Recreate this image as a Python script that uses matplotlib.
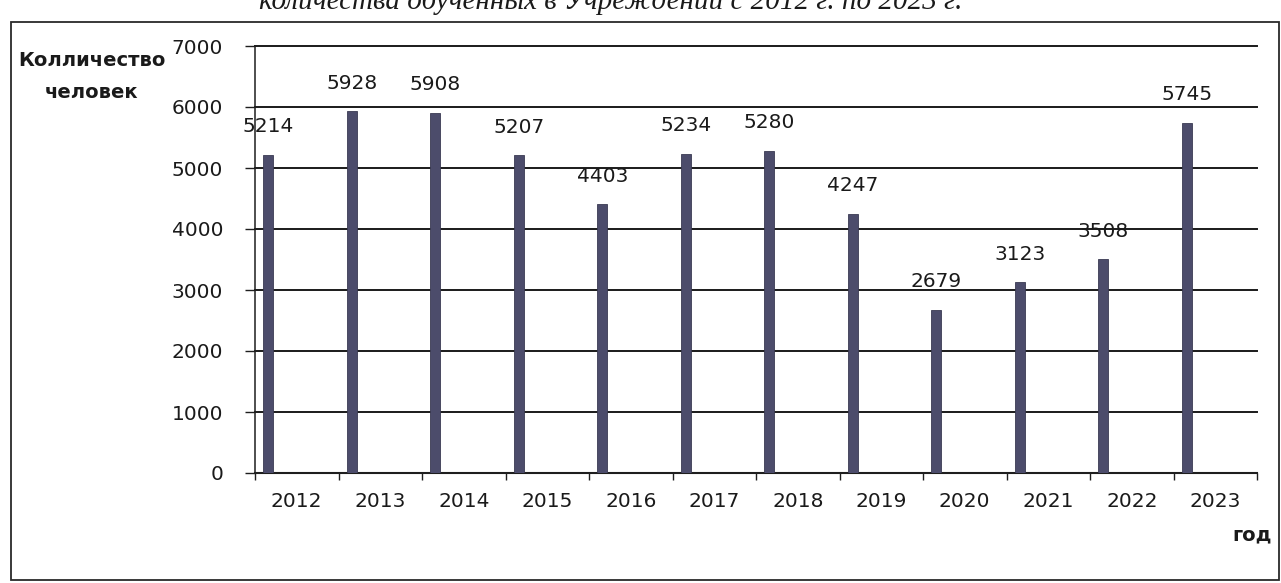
import matplotlib
matplotlib.use("Agg")
import matplotlib.pyplot as plt
from matplotlib.patches import Rectangle
import numpy as np

years = ["2012", "2013", "2014", "2015", "2016", "2017",
         "2018", "2019", "2020", "2021", "2022", "2023"]
people = [5214, 5928, 5908, 5207, 4403, 5234, 5280, 4247, 2679, 3123, 3508, 5745]
y_ticks = [0, 1000, 2000, 3000, 4000, 5000, 6000, 7000]
y_title = ["Колличество", "человек"]
x_title = "год"
caption = "количества обученных в Учреждении с 2012 г. по 2023 г."

plt.rcParams['font.family'] = ['DejaVu Sans']

W, H = 1281, 583
fig = plt.figure(figsize=(W / 100, H / 100), dpi=100)
fig.patch.set_facecolor("white")

# outer frame
fig.add_artist(Rectangle((11 / W, 1 - 580 / H), (1279 - 11) / W, (580 - 22) / H,
                         transform=fig.transFigure, fill=False,
                         edgecolor="#2a2a2a", linewidth=1.3))

ax = fig.add_axes([255 / W, 1 - 473 / H, 1002 / W, 427 / H])
n = len(years)
idx = np.arange(n)
bar_x = idx + 0.16
bars = ax.bar(bar_x, people, width=0.12, color="#4c4c6b",
              edgecolor="#3a3a52", linewidth=0.6, zorder=3)

for x, v in zip(bar_x, people):
    ax.annotate(str(v), xy=(x, v), xytext=(0, 28), textcoords="offset pixels",
                ha="center", va="center", fontsize=14.5, color="#1a1a1a", zorder=4)

ax.set_xlim(0, n)
ax.set_ylim(0, 7000)
ax.set_yticks(y_ticks)
ax.set_yticklabels([str(t) for t in y_ticks], fontsize=14.5, color="#1a1a1a")
ax.yaxis.grid(True, color="#1a1a1a", linewidth=1.4, zorder=1)
for gl in ax.get_ygridlines():
    gl.set_clip_on(False)
ax.set_axisbelow(True)

ax.set_xticks(np.arange(n + 1))
ax.set_xticklabels([])
ax.set_xticks(idx + 0.5, minor=True)
ax.set_xticklabels(years, minor=True, fontsize=14.5, color="#1a1a1a")
ax.tick_params(axis="x", which="major", direction="out", length=5, width=1.0, color="#1e1e1e")
ax.tick_params(axis="x", which="minor", length=0, pad=14)
ax.tick_params(axis="y", which="major", direction="out", length=7, width=1.0,
               color="#1e1e1e", pad=16)

for s in ["top", "right"]:
    ax.spines[s].set_visible(False)
ax.spines["left"].set_color("#1e1e1e")
ax.spines["left"].set_linewidth(1.1)
ax.spines["bottom"].set_color("#1e1e1e")
ax.spines["bottom"].set_linewidth(1.5)

fig.text(92 / W, 1 - 60 / H, y_title[0], ha="center", va="center",
         fontsize=14, fontweight="bold", color="#1a1a1a")
fig.text(92 / W, 1 - 93 / H, y_title[1], ha="center", va="center",
         fontsize=14, fontweight="bold", color="#1a1a1a")
fig.text(1252 / W, 1 - 535 / H, x_title, ha="center", va="center",
         fontsize=14, fontweight="bold", color="#1a1a1a")

fig.text(611 / W, 1 - 9 / H, caption, ha="center", va="baseline",
         fontsize=21, style="italic", family="Liberation Serif", color="#1a1a1a")

fig.savefig("out.png", dpi=100, facecolor="white")
